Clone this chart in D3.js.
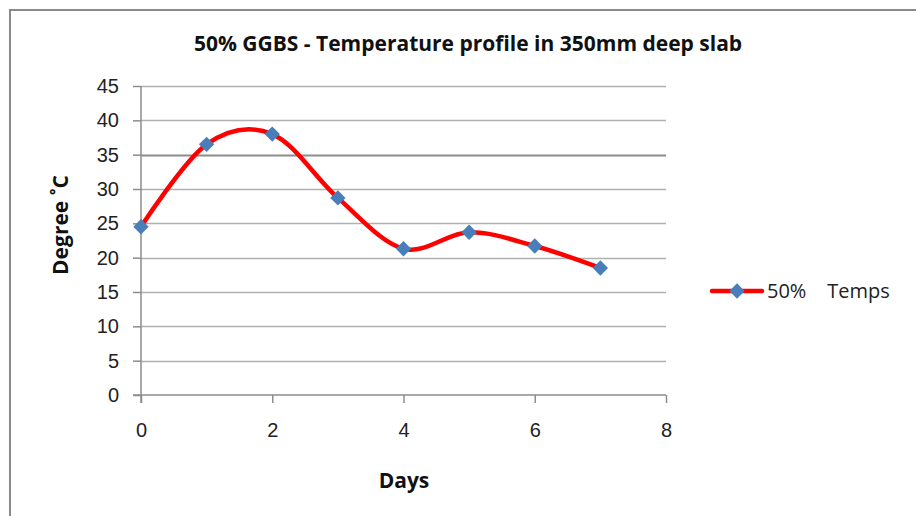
<!DOCTYPE html>
<html>
<head>
<meta charset="utf-8">
<script src="https://cdn.jsdelivr.net/npm/d3@7"></script>
<style>
  body { margin: 0; background: #fff; }
  svg { display: block; font-family: "Open Sans", sans-serif; }
</style>
</head>
<body>
<div id="chart"></div>
<script>
// data
var days = [0, 1, 2, 3, 4, 5, 6, 7];
var temps = [24.5, 36.5, 38.0, 28.7, 21.3, 23.7, 21.7, 18.5];
var yTicks = [0, 5, 10, 15, 20, 25, 30, 35, 40, 45];
var xTicks = [0, 2, 4, 6, 8];
var seriesName = "50%    Temps";

var W = 916, H = 516;
var margin = { top: 86, right: 250, bottom: 121, left: 141 },
  width = W - margin.left - margin.right,
  height = H - margin.top - margin.bottom;

var svg = d3.select("#chart").append("svg")
  .attr("width", W)
  .attr("height", H);

// outer frame (runs off the right and bottom edges)
svg.append("path")
  .attr("d", "M10," + H + "V10H" + W)
  .attr("fill", "none")
  .attr("stroke", "#8a8a8a")
  .attr("stroke-width", 2);

var g = svg.append("g")
  .attr("transform", "translate(" + margin.left + "," + margin.top + ")");

var x = d3.scaleLinear().domain([0, 8]).range([0, width]);
var y = d3.scaleLinear().domain([0, 45]).range([height, 0]);

// gridlines
g.selectAll(".grid")
  .data(yTicks.filter(function (d) { return d > 0; }))
  .enter()
  .append("line")
  .attr("x1", 0)
  .attr("x2", width)
  .attr("y1", function (d) { return Math.round(y(d)) + 0.5; })
  .attr("y2", function (d) { return Math.round(y(d)) + 0.5; })
  .attr("stroke", function (d) { return d === 35 ? "#8c8c8c" : "#b0b0b0"; })
  .attr("stroke-width", function (d) { return d === 35 ? 2 : 1.5; });

// Y axis
var yAxis = g.append("g")
  .call(d3.axisLeft(y).tickValues(yTicks).tickSize(8).tickPadding(14));
yAxis.select(".domain").attr("stroke", "#8c8c8c").attr("stroke-width", 1.5)
  .attr("d", "M0," + (height + 8) + "V0");
yAxis.selectAll(".tick line").attr("stroke", "#8c8c8c").attr("stroke-width", 1.5);
yAxis.selectAll("text")
  .style("font-size", "20px")
  .attr("fill", "#222");

// X axis
var xAxis = g.append("g")
  .attr("transform", "translate(0," + height + ")")
  .call(d3.axisBottom(x).tickValues(xTicks).tickSize(8).tickPadding(20));
xAxis.select(".domain").attr("stroke", "#8c8c8c").attr("stroke-width", 1.5)
  .attr("d", "M-8,0H" + width);
xAxis.selectAll(".tick line").attr("stroke", "#8c8c8c").attr("stroke-width", 1.5);
xAxis.selectAll("text")
  .style("font-size", "20px")
  .attr("fill", "#222");

// smoothed line
var line = d3.line()
  .x(function (d, i) { return x(days[i]); })
  .y(function (d) { return y(d); })
  .curve(d3.curveCardinal.tension(0));

g.append("path")
  .datum(temps)
  .attr("d", line)
  .attr("fill", "none")
  .attr("stroke", "#ff0000")
  .attr("stroke-width", 4.5)
  .attr("stroke-linecap", "round");

var diamond = d3.symbol().type(d3.symbolDiamond2).size(150);

g.selectAll(".pt")
  .data(temps)
  .enter()
  .append("path")
  .attr("d", diamond)
  .attr("transform", function (d, i) { return "translate(" + x(days[i]) + "," + y(d) + ")"; })
  .attr("fill", "#4a7ebb");

// title
svg.append("text")
  .attr("x", 468)
  .attr("y", 51)
  .attr("text-anchor", "middle")
  .style("font-size", "21px")
  .style("font-weight", "bold")
  .attr("fill", "#111")
  .text("50% GGBS - Temperature profile in 350mm deep slab");

// axis titles
svg.append("text")
  .attr("transform", "translate(68,225) rotate(-90)")
  .attr("text-anchor", "middle")
  .style("font-size", "21px")
  .style("font-weight", "bold")
  .attr("fill", "#111")
  .text("Degree ˚C");

svg.append("text")
  .attr("x", 404)
  .attr("y", 488)
  .attr("text-anchor", "middle")
  .style("font-size", "21px")
  .style("font-weight", "bold")
  .attr("fill", "#111")
  .text("Days");

// legend
var lg = svg.append("g").attr("transform", "translate(712,291)");
lg.append("line")
  .attr("x1", 0).attr("x2", 50)
  .attr("stroke", "#ff0000")
  .attr("stroke-width", 4.5)
  .attr("stroke-linecap", "round");
lg.append("path")
  .attr("d", diamond)
  .attr("transform", "translate(25,0)")
  .attr("fill", "#4a7ebb");
lg.append("text")
  .attr("x", 55)
  .attr("y", 7)
  .style("font-size", "20px")
  .style("white-space", "pre")
  .attr("fill", "#222")
  .text(seriesName);
</script>
</body>
</html>
